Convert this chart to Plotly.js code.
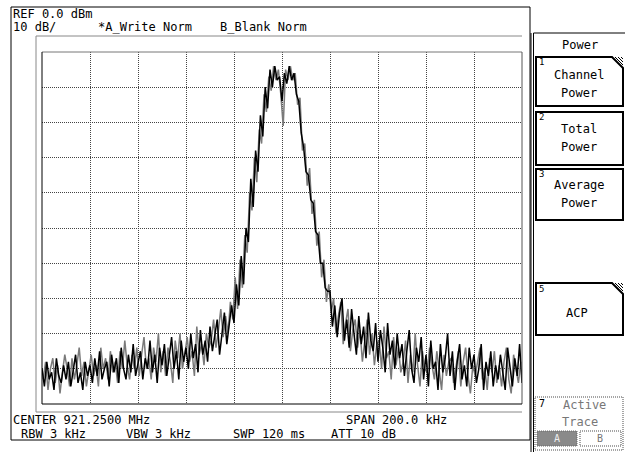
<!DOCTYPE html>
<html><head><meta charset="utf-8">
<script src="https://cdn.plot.ly/plotly-3.0.1.min.js"></script>
<style>html,body{margin:0;padding:0;background:#fff}#chart{width:625px;height:453px}</style>
</head><body><div id="chart"></div>
<script>
// ---- data (dBm) ----
const sweepStartKHz = -100;      // offset from centre, kHz
const sweepStepKHz = 1;
const graySweepStartKHz = -99.5;
const traceBlack = [
  -90,-95,-88,-93,-91,-96,-87,-92,-94,-89,
  -93,-88,-95,-90,-86,-94,-91,-96,-88,-92,
  -89,-94,-87,-92,-85,-93,-90,-88,-95,-86,
  -91,-87,-94,-84,-90,-93,-86,-91,-83,-92,
  -88,-85,-93,-87,-90,-82,-91,-86,-94,-84,
  -89,-83,-92,-86,-81,-90,-85,-93,-82,-88,
  -84,-90,-80,-87,-83,-91,-79,-86,-82,-88,
  -78,-85,-81,-76,-86,-79,-74,-83,-77,-72,
  -77,-66,-72,-58,-66,-50,-54,-36,-44,-28,
  -34,-18,-24,-10,-16,-5,-10,-4,-8,-7,
  -14,-6,-9,-4,-8,-6,-12,-14,-23,-27,
  -34,-35,-42,-43,-51,-52,-60,-60,-67,-68,
  -68,-78,-72,-81,-74,-70,-82,-76,-84,-73,
  -80,-86,-75,-83,-78,-87,-74,-82,-85,-77,
  -88,-79,-84,-91,-77,-86,-82,-90,-80,-87,
  -83,-92,-85,-79,-90,-94,-84,-88,-81,-93,
  -86,-95,-82,-90,-88,-96,-83,-91,-87,-80,
  -92,-85,-96,-88,-83,-93,-89,-95,-84,-90,
  -86,-94,-90,-83,-96,-88,-92,-85,-95,-89,
  -93,-86,-91,-96,-84,-90,-95,-87,-92,-83,-94
];
const traceGray = [
  -93,-88,-96,-90,-87,-94,-89,-97,-91,-86,
  -90,-95,-87,-93,-89,-84,-92,-88,-95,-90,
  -86,-92,-89,-95,-84,-90,-87,-93,-85,-91,
  -88,-94,-85,-90,-82,-89,-93,-86,-90,-84,
  -92,-86,-81,-90,-87,-93,-84,-88,-80,-91,
  -85,-92,-84,-88,-94,-82,-87,-80,-90,-86,
  -81,-88,-85,-92,-78,-86,-83,-89,-80,-84,
  -82,-76,-84,-79,-73,-81,-75,-80,-71,-76,
  -64,-73,-59,-67,-52,-57,-40,-45,-30,-37,
  -22,-26,-12,-17,-7,-11,-4,-8,-5,-12,
  -21,-5,-8,-4,-8,-6,-15,-13,-28,-26,
  -38,-33,-46,-42,-55,-51,-64,-59,-71,-66,
  -74,-70,-80,-75,-71,-83,-77,-73,-85,-79,
  -76,-84,-79,-88,-81,-76,-86,-80,-89,-83,
  -82,-90,-78,-87,-85,-93,-81,-89,-84,-91,
  -88,-82,-94,-86,-91,-80,-89,-95,-85,-90,
  -91,-84,-89,-93,-85,-90,-96,-86,-92,-88,
  -87,-94,-90,-85,-95,-88,-84,-92,-97,-89,
  -92,-88,-84,-93,-90,-96,-87,-91,-85,-94,
  -89,-95,-88,-84,-93,-97,-86,-90,-94,-88
];
const headerTexts = ["REF 0.0 dBm", "10 dB/", "*A_Write Norm", "B_Blank Norm"];
const footerTexts = ["CENTER 921.2500 MHz", "SPAN 200.0 kHz", "RBW 3 kHz", "VBW 3 kHz", "SWP 120 ms", "ATT 10 dB"];
const menuTitle = "Power";
const keyNumbers = ["1", "2", "3", "5", "7"];
const keyLabels = [["Channel", "Power"], ["Total", "Power"], ["Average", "Power"], ["ACP"], ["Active", "Trace"]];
const traceButtons = ["A", "B"];

// ---- geometry helpers (pixel -> paper) ----
const L = 42, R = 522, T = 52, B = 404;
const px = x => (x - L) / (R - L);
const py = y => (B - y) / (B - T);
const FONT = "DejaVu Sans Mono";
const shapes = [];
const ann = [];
function ln(x0, y0, x1, y1, color, width, dash) {
  shapes.push({type: 'line', xref: 'paper', yref: 'paper', x0: px(x0), y0: py(y0), x1: px(x1), y1: py(y1),
    line: {color: color, width: width, dash: dash || 'solid'}});
}
function rc(x0, y0, x1, y1, color, width, dash, fill) {
  shapes.push({type: 'rect', xref: 'paper', yref: 'paper', x0: px(x0), y0: py(y0), x1: px(x1), y1: py(y1),
    line: {color: color, width: width, dash: dash || 'solid'}, fillcolor: fill || 'rgba(0,0,0,0)'});
}
function pth(pts, color, width) {
  shapes.push({type: 'path', xref: 'paper', yref: 'paper',
    path: 'M' + pts.map(p => px(p[0]) + ',' + py(p[1])).join('L') + 'Z',
    line: {color: color, width: width}, fillcolor: 'rgba(0,0,0,0)'});
}
function tx(s, x, y, size, anchor, color) {
  ann.push({text: s, xref: 'paper', yref: 'paper', x: px(x), y: py(y), xanchor: anchor || 'left', yanchor: 'middle',
    showarrow: false, borderpad: 0, font: {family: FONT, size: size || 12, color: color || '#000'}});
}

// frames
rc(11, 7, 530, 440, '#000', 1);
ln(36, 36, 522, 36, '#888', 1);
ln(36, 36, 36, 412, '#888', 1);
ln(36, 412, 522, 412, '#888', 1);
// plot border
ln(42, 52, 522, 52, '#777', 1);
ln(522, 52, 522, 404, '#555', 1);
ln(42, 52, 42, 404, '#000', 1);
ln(42, 404, 522, 404, '#000', 1);

// header / footer texts
tx(headerTexts[0], 12, 14);
tx(headerTexts[1], 12, 27);
tx(headerTexts[2], 97, 27);
tx(headerTexts[3], 219, 27);
tx(footerTexts[0], 12, 420);
tx(footerTexts[1], 345, 420);
tx(footerTexts[2], 20, 434);
tx(footerTexts[3], 125, 434);
tx(footerTexts[4], 232, 434);
tx(footerTexts[5], 330, 434);

// soft-key panel
ln(531, 33, 531, 452, '#000', 1);
ln(533.5, 33, 533.5, 452, '#000', 1);
ln(533.5, 33, 625, 33, '#000', 1);
tx(menuTitle, 580, 45, 12, 'center');
function cutKey(y0, y1) {
  pth([[536, y0], [612, y0], [623, y0 + 11], [623, y1], [536, y1]], '#000', 2);
  [3, 6, 9].forEach(k => ln(612 + k, y0, 623, y0 + 11 - k, '#000', 1));
}
cutKey(57, 106);
rc(536, 112, 623, 165, '#000', 2);
rc(536, 169, 623, 220, '#000', 2);
cutKey(283, 335);
rc(535, 397, 623, 450, '#888', 1.5, '1px,1px');
tx(keyNumbers[0], 538, 62, 9);
tx(keyLabels[0][0], 579, 75, 12, 'center');
tx(keyLabels[0][1], 579, 93, 12, 'center');
tx(keyNumbers[1], 538, 117, 9);
tx(keyLabels[1][0], 579, 129, 12, 'center');
tx(keyLabels[1][1], 579, 147, 12, 'center');
tx(keyNumbers[2], 538, 174, 9);
tx(keyLabels[2][0], 579, 185, 12, 'center');
tx(keyLabels[2][1], 579, 203, 12, 'center');
tx(keyNumbers[3], 538, 289, 9);
tx(keyLabels[3][0], 577, 313, 12, 'center');
tx(keyNumbers[4], 538, 403, 10);
tx(keyLabels[4][0], 584, 405, 12, 'center', '#777');
tx(keyLabels[4][1], 580, 422, 12, 'center', '#777');
rc(537, 431, 577, 446, '#666', 1, '1px,1px', '#8a8a8a');
rc(580, 431, 621, 446, '#888', 1.5, '1px,1px', '#fff');
tx(traceButtons[0], 557, 438.5, 10, 'center', '#eee');
tx(traceButtons[1], 600, 438.5, 10, 'center', '#777');

const data = [
  {type: 'scatter', mode: 'lines', x0: graySweepStartKHz, dx: sweepStepKHz, y: traceGray,
   line: {color: '#7a7a7a', width: 1.5}, hoverinfo: 'skip'},
  {type: 'scatter', mode: 'lines', x0: sweepStartKHz, dx: sweepStepKHz, y: traceBlack,
   line: {color: '#000', width: 1.5}, hoverinfo: 'skip'}
];
const grid = {showgrid: true, gridcolor: '#444', gridwidth: 1, griddash: '1px,1px', zeroline: false,
  showticklabels: false, ticks: '', showline: false, fixedrange: true};
const layout = {
  width: 625, height: 453, showlegend: false,
  margin: {l: 42, r: 103, t: 52, b: 49, pad: 0},
  paper_bgcolor: '#fff', plot_bgcolor: '#fff',
  xaxis: Object.assign({range: [-100, 100], tick0: -100, dtick: 20}, grid),
  yaxis: Object.assign({range: [-100, 0], tick0: -100, dtick: 10}, grid),
  shapes: shapes, annotations: ann
};
Plotly.newPlot('chart', data, layout, {staticPlot: true, displayModeBar: false});
</script></body></html>
